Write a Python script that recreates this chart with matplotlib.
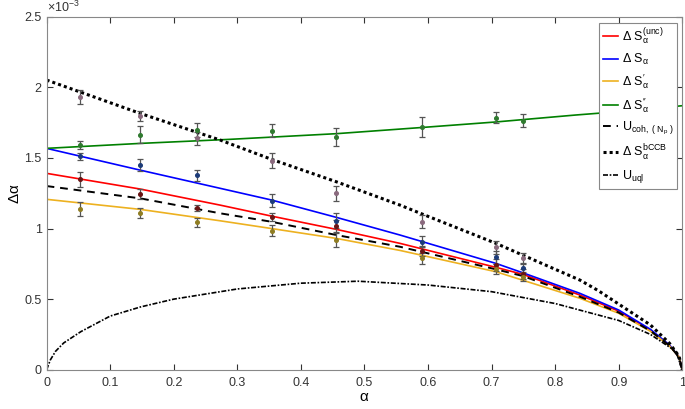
import matplotlib
matplotlib.use("Agg")
import matplotlib.pyplot as plt
import numpy as np

plt.rcParams['font.family'] = ['Liberation Sans', 'DejaVu Sans']
plt.rcParams['mathtext.fontset'] = 'custom'
plt.rcParams['mathtext.rm'] = 'Liberation Sans'
plt.rcParams['mathtext.it'] = 'Liberation Sans:italic'
plt.rcParams['mathtext.default'] = 'regular'

# curves, values in units of 1e-3
a_blue = [0, 0.147, 0.273, 0.354, 0.456, 0.556, 0.707, 0.749, 0.839, 0.9, 0.95, 0.98, 0.995, 1.0]
s_blue = [1.568, 1.414, 1.285, 1.202, 1.079, 0.954, 0.753, 0.687, 0.541, 0.423, 0.286, 0.175, 0.09, 0]

a_red = [0, 0.147, 0.273, 0.354, 0.456, 0.556, 0.707, 0.749, 0.839, 0.9, 0.95, 0.98, 0.995, 1.0]
s_red = [1.391, 1.280, 1.166, 1.088, 0.994, 0.895, 0.725, 0.676, 0.529, 0.415, 0.280, 0.172, 0.09, 0]

a_coh = [0, 0.147, 0.273, 0.354, 0.456, 0.556, 0.707, 0.749, 0.839, 0.9, 0.95, 0.98, 0.995, 1.0]
u_coh = [1.301, 1.214, 1.108, 1.048, 0.954, 0.871, 0.711, 0.664, 0.517, 0.405, 0.275, 0.170, 0.09, 0]

a_orange = [0, 0.147, 0.273, 0.354, 0.456, 0.556, 0.707, 0.839, 0.9, 0.95, 0.98, 0.995, 1.0]
s_orange = [1.207, 1.136, 1.055, 1.000, 0.930, 0.845, 0.694, 0.506, 0.400, 0.272, 0.168, 0.09, 0]

a_green = [0, 0.147, 0.289, 0.456, 0.588, 0.707, 0.832, 0.92, 1.0]
s_green = [1.568, 1.603, 1.632, 1.672, 1.715, 1.755, 1.804, 1.835, 1.870]

a_bccb = [0, 0.147, 0.273, 0.354, 0.456, 0.556, 0.588, 0.707, 0.749, 0.839, 0.868, 0.9, 0.95, 0.98, 0.995, 1.0]
s_bccb = [2.052, 1.816, 1.627, 1.490, 1.331, 1.166, 1.108, 0.895, 0.812, 0.635, 0.560, 0.465, 0.317, 0.187, 0.095, 0]

a_uql = [0, 0.006, 0.014, 0.027, 0.054, 0.1, 0.148, 0.2, 0.3, 0.4, 0.49, 0.6, 0.7, 0.8, 0.9, 0.95, 0.99, 1.0]
u_uql = [0, 0.07, 0.13, 0.19, 0.27, 0.38, 0.445, 0.50, 0.572, 0.613, 0.627, 0.600, 0.553, 0.469, 0.349, 0.250, 0.130, 0]

# measured points
a_pts = [0.053, 0.147, 0.236, 0.354, 0.456, 0.591, 0.707, 0.749]
m_bccb = [1.934, 1.797, 1.639, 1.480, 1.249, 1.048, 0.867, 0.789]
e_bccb = [0.05, 0.038, 0.047, 0.053, 0.052, 0.045, 0.045, 0.04]
m_green = [1.591, 1.664, 1.698, 1.693, 1.646, 1.717, 1.785, 1.765]
e_green = [0.028, 0.061, 0.053, 0.047, 0.064, 0.07, 0.04, 0.045]
m_blue = [1.513, 1.452, 1.377, 1.197, 1.055, 0.907, 0.796, 0.718]
e_blue = [0.024, 0.041, 0.038, 0.045, 0.053, 0.04, 0.045, 0.04]
m_red = [1.348, 1.244, 1.143, 1.084, 1.018, 0.841, 0.741, 0.678]
e_red = [0.055, 0.035, 0.022, 0.028, 0.04, 0.035, 0.04, 0.035]
m_orange = [1.138, 1.108, 1.044, 0.984, 0.919, 0.789, 0.711, 0.659]
e_orange = [0.047, 0.035, 0.033, 0.038, 0.05, 0.04, 0.035, 0.03]

fig = plt.figure(figsize=(6.85, 4.09), dpi=100)
ax = fig.add_axes([0.068, 0.096, 0.928, 0.863])

ax.plot(a_red, s_red, color='#ff0000', lw=1.2, label=r'$\Delta$ S$_\alpha^{(unc)}$')
ax.plot(a_blue, s_blue, color='#0000ff', lw=1.2, label=r'$\Delta$ S$_\alpha$')
ax.plot(a_orange, s_orange, color='#edb120', lw=1.2, label=r"$\Delta$ S$_\alpha^{\prime}$")
ax.plot(a_green, s_green, color='#008000', lw=1.2, label=r"$\Delta$ S$_\alpha^{\prime\prime}$")
ax.plot(a_coh, u_coh, color='black', lw=1.4, ls=(0, (4, 3)), label=r'U$_{coh,\ (\ N_p\ )}$')
ax.plot(a_bccb, s_bccb, color='black', lw=2.2, ls=(0, (1, 1)), label=r'$\Delta$ S$_\alpha^{bCCB}$')
ax.plot(a_uql, u_uql, color='black', lw=1.2, ls=(0, (3, 1, 1, 1)), label=r'U$_{uql}$')

pts = [(m_bccb, e_bccb, '#8a6a7e'), (m_green, e_green, '#2f7a2f'), (m_blue, e_blue, '#1c3b78'),
       (m_red, e_red, '#6a1414'), (m_orange, e_orange, '#8f7d22')]
for m, e, c in pts:
    ax.errorbar(a_pts, m, yerr=e, fmt='o', ms=2.6, color=c, ecolor='#555555',
                elinewidth=0.9, capsize=2.5, capthick=0.9)

ax.set_xlim(0, 1)
ax.set_ylim(0, 2.5)
ax.set_xticks(np.arange(0, 1.01, 0.1))
ax.set_xticklabels(['0', '0.1', '0.2', '0.3', '0.4', '0.5', '0.6', '0.7', '0.8', '0.9', '1'])
ax.set_yticks([0, 0.5, 1, 1.5, 2, 2.5])
ax.set_yticklabels(['0', '0.5', '1', '1.5', '2', '2.5'])
ax.tick_params(direction='in', top=True, right=True, length=4, labelsize=9, colors='#333333')
ax.tick_params(axis='x', pad=5)
for s in ax.spines.values():
    s.set_color('#888888')
    s.set_linewidth(0.8)

ax.set_xlabel(r'$\alpha$', fontsize=11, labelpad=1)
ax.set_ylabel(r'$\Delta\alpha$', fontsize=11)
ax.yaxis.set_label_coords(-0.038, 0.5)
ax.text(0.0, 1.005, r'$\times$10$^{-3}$', transform=ax.transAxes, fontsize=9,
        ha='left', va='bottom', color='#333333')

leg = ax.legend(loc='upper right', bbox_to_anchor=(0.992, 0.983), fontsize=9,
                handlelength=1.2, handletextpad=0.3, labelspacing=0.42,
                borderpad=0.3, borderaxespad=0, fancybox=False, framealpha=1,
                edgecolor='#888888')
leg.get_frame().set_linewidth(0.8)

fig.savefig('out.png', dpi=100)
